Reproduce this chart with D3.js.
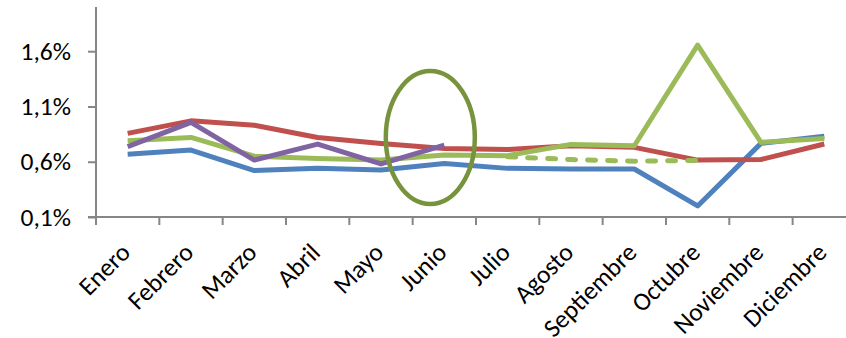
<!DOCTYPE html>
<html>
<head>
<meta charset="utf-8">
<script src="https://cdn.jsdelivr.net/npm/d3@7"></script>
<style>
  html, body { margin: 0; padding: 0; background: #fff; }
  svg { display: block; }
</style>
</head>
<body>
<svg id="chart" width="846" height="338"></svg>
<script>
// Monthly rates (%) per series
const months = ["Enero", "Febrero", "Marzo", "Abril", "Mayo", "Junio", "Julio",
  "Agosto", "Septiembre", "Octubre", "Noviembre", "Diciembre"];
const blueSeries   = [0.667, 0.706, 0.52, 0.54, 0.525, 0.585, 0.54, 0.534, 0.534, 0.20, 0.766, 0.83];
const redSeries    = [0.857, 0.97, 0.93, 0.82, 0.766, 0.72, 0.71, 0.745, 0.73, 0.615, 0.62, 0.76];
const greenSeries  = [0.79, 0.82, 0.65, 0.63, 0.615, 0.66, 0.655, 0.757, 0.745, 1.655, 0.775, 0.81];
const purpleSeries = [0.736, 0.956, 0.615, 0.76, 0.58, 0.75];
// Adjusted green path from Julio to Octubre
const greenDashed  = [null, null, null, null, null, null, 0.645, 0.62, 0.605, 0.612, null, null];
const yTicks = [0.1, 0.6, 1.1, 1.6];

const svg = d3.select("#chart");
const plotLeft = 96, plotTop = 7, plotBottom = 217;
const x = d3.scaleBand().domain(months).range([plotLeft, plotLeft + 12 * 63.33]);
const y = d3.scaleLinear().domain([0.1, 2.0]).range([plotBottom, plotTop]);
const fmt = v => d3.format(".1f")(v).replace(".", ",") + "%";
const axisColor = "#868686";
const fontFamily = "Carlito, Calibri, Lato, sans-serif";
const fontSize = 25.5;

// Y axis
const yAxis = svg.append("g").attr("transform", `translate(${plotLeft},0)`)
  .call(d3.axisLeft(y).tickValues(yTicks).tickSize(8).tickSizeOuter(0).tickFormat(fmt))
  .attr("font-family", fontFamily).attr("font-size", fontSize);
yAxis.select(".domain").attr("stroke", axisColor).attr("stroke-width", 2)
  .attr("d", `M0,${plotBottom}V${plotTop}`);
yAxis.selectAll(".tick line").attr("stroke", axisColor).attr("stroke-width", 2);
yAxis.selectAll(".tick text").attr("x", -25).attr("fill", "#000");

// X axis: line, boundary ticks, rotated labels
const xg = svg.append("g").attr("font-family", fontFamily).attr("font-size", fontSize);
xg.append("line").attr("x1", plotLeft - 8).attr("x2", 846).attr("y1", plotBottom).attr("y2", plotBottom)
  .attr("stroke", axisColor).attr("stroke-width", 2);
xg.selectAll("line.tk").data(months).join("line").attr("class", "tk")
  .attr("x1", d => x(d)).attr("x2", d => x(d)).attr("y1", plotBottom).attr("y2", plotBottom + 8)
  .attr("stroke", axisColor).attr("stroke-width", 2);
xg.selectAll("text").data(months).join("text")
  .attr("transform", d => `translate(${x(d) + x.bandwidth() / 2 + 4},${plotBottom + 37}) rotate(-45)`)
  .attr("text-anchor", "end").attr("fill", "#000").text(d => d);

const cx = d => x(d) + x.bandwidth() / 2;
const line = d3.line().defined(d => d.v != null).x(d => cx(d.m)).y(d => y(d.v));
const pts = arr => arr.map((v, i) => ({ m: months[i], v }));

function draw(data, color, dash) {
  svg.append("path").datum(pts(data)).attr("d", line)
    .attr("fill", "none").attr("stroke", color).attr("stroke-width", 5)
    .attr("stroke-linejoin", "round").attr("stroke-linecap", dash ? "round" : "butt")
    .attr("stroke-dasharray", dash || null);
}
draw(blueSeries, "#4F81BD");
draw(redSeries, "#C0504D");
draw(greenSeries, "#9BBB59");
draw(greenDashed, "#9BBB59", "8,12");
draw(purpleSeries, "#8064A2");

// Highlight around Junio
svg.append("ellipse")
  .attr("cx", cx("Junio") - 14).attr("cy", 137.5)
  .attr("rx", 44.5).attr("ry", 66.5)
  .attr("fill", "none").attr("stroke", "#77933C").attr("stroke-width", 4.5);
</script>
</body>
</html>
